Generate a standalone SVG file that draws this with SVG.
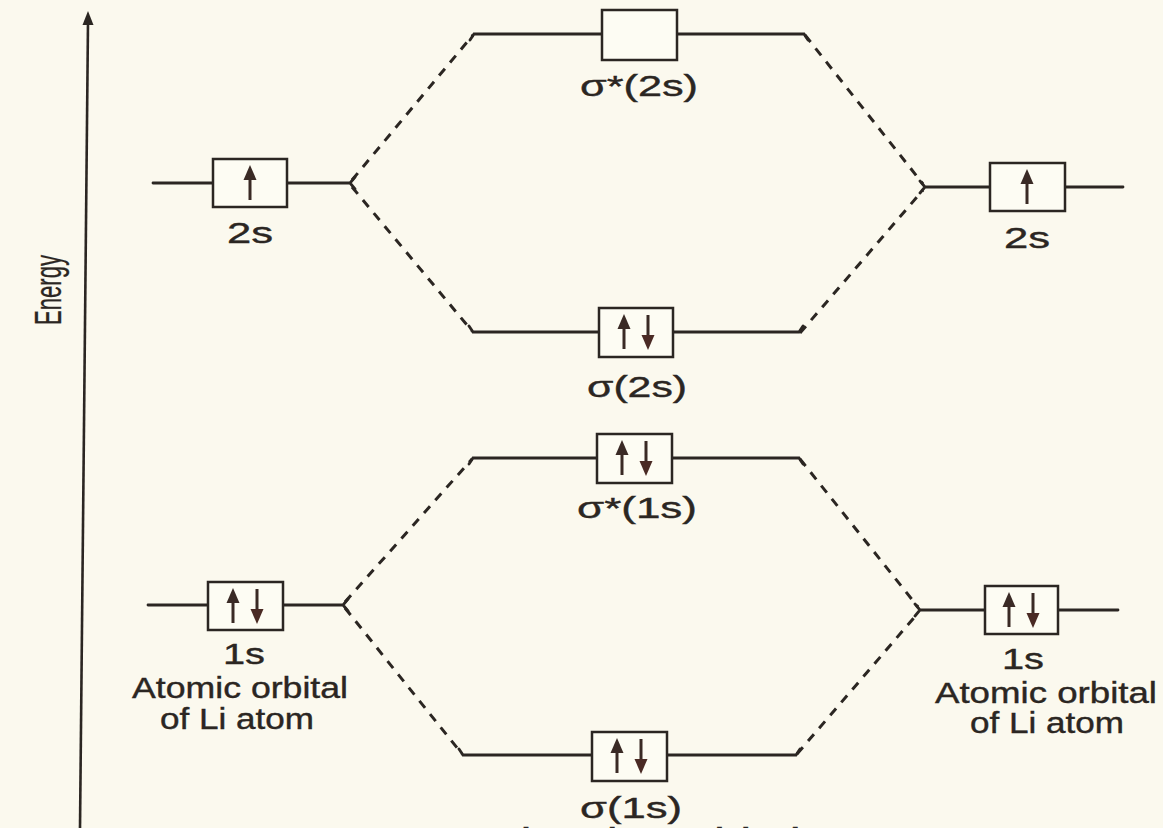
<svg xmlns="http://www.w3.org/2000/svg" xmlns:xlink="http://www.w3.org/1999/xlink" width="1163" height="828" viewBox="0 0 1163 828">
  <defs>
    <style>
      .lvl { stroke: #2b2622; stroke-width: 2.8; fill: none; stroke-linecap: round; }
      .box { stroke: #2b2622; stroke-width: 2.5; fill: #fdfcf3; }
      .dash { stroke: #2b2622; stroke-width: 3; fill: none; stroke-dasharray: 9 8; }
      .lbl { font-family: "Liberation Sans", Arial, sans-serif; font-size: 30px; fill: #2b2622; stroke: #2b2622; stroke-width: 0.4; text-anchor: middle; }
      .ax { stroke: #2b2622; stroke-width: 2.6; fill: none; }
    </style>
    <!-- spin arrows, centred on the origin -->
    <g id="up">
      <line x1="0" y1="17" x2="0" y2="-5" stroke="#3a2a25" stroke-width="3"/>
      <polygon points="0,-18 -6.5,-3 6.5,-3" fill="#3a2a25"/>
    </g>
    <g id="down">
      <line x1="0" y1="-17" x2="0" y2="5" stroke="#3a2a25" stroke-width="3"/>
      <polygon points="0,18 -6.5,3 6.5,3" fill="#4a2a24"/>
    </g>
  </defs>

  <rect width="1163" height="828" fill="#fbf9ee"/>

  <!-- energy axis -->
  <g id="energy-axis">
    <line class="ax" x1="80" y1="828" x2="88" y2="22"/>
    <polygon points="88,11 82.5,25 93.5,25" fill="#2b2622"/>
    <text transform="translate(61,290) rotate(-90)" style="font-family: 'Liberation Sans Narrow', 'Liberation Sans', Arial, sans-serif; font-size: 36px;" fill="#2b2622" stroke="#2b2622" stroke-width="0.3" text-anchor="middle" textLength="70" lengthAdjust="spacingAndGlyphs">Energy</text>
  </g>

  <!-- correlation lines between atomic and molecular levels -->
  <g id="connectors">
    <path class="dash" d="M352,180 L473,35"/>
    <path class="dash" d="M352,187 L472,331"/>
    <path class="dash" d="M805,35 L923,184"/>
    <path class="dash" d="M800,333 L923,190"/>
    <path class="dash" d="M345,602 L472,459"/>
    <path class="dash" d="M345,608 L462,754"/>
    <path class="dash" d="M800,459 L918,607"/>
    <path class="dash" d="M797,754 L918,613"/>
  </g>

  <!-- left atom, 2s -->
  <g id="ao-2s-left">
    <path class="lvl" d="M153,183 H213 M287,183 H350 M355,177 L350,183 L355,189"/>
    <rect class="box" x="213" y="159" width="74" height="48"/>
    <use xlink:href="#up" x="250" y="183"/>
    <text class="lbl" x="250" y="243" textLength="46" lengthAdjust="spacingAndGlyphs">2s</text>
  </g>

  <!-- right atom, 2s -->
  <g id="ao-2s-right">
    <path class="lvl" d="M925,187 H990 M1065,187 H1123 M920,181 L925,187 L920,193"/>
    <rect class="box" x="990" y="163" width="75" height="48"/>
    <use xlink:href="#up" x="1027" y="187"/>
    <text class="lbl" x="1027" y="248" textLength="46" lengthAdjust="spacingAndGlyphs">2s</text>
  </g>

  <!-- sigma*(2s), empty -->
  <g id="mo-sigma-star-2s">
    <path class="lvl" d="M470,40 L474,34 H602 M677,34 H804 L808,40"/>
    <rect class="box" x="602" y="10" width="75" height="50"/>
    <text class="lbl" x="639" y="96" textLength="118" lengthAdjust="spacingAndGlyphs">σ*(2s)</text>
  </g>

  <!-- sigma(2s) -->
  <g id="mo-sigma-2s">
    <path class="lvl" d="M469,326 L473,332 H599 M673,332 H799 L803,326"/>
    <rect class="box" x="599" y="308" width="74" height="49"/>
    <use xlink:href="#up" x="624" y="332"/>
    <use xlink:href="#down" x="648" y="332"/>
    <text class="lbl" x="637" y="397" textLength="100" lengthAdjust="spacingAndGlyphs">σ(2s)</text>
  </g>

  <!-- sigma*(1s) -->
  <g id="mo-sigma-star-1s">
    <path class="lvl" d="M469,464 L473,458 H597 M672,458 H799 L803,464"/>
    <rect class="box" x="597" y="434" width="75" height="49"/>
    <use xlink:href="#up" x="622" y="458"/>
    <use xlink:href="#down" x="646" y="458"/>
    <text class="lbl" x="637" y="518" textLength="120" lengthAdjust="spacingAndGlyphs">σ*(1s)</text>
  </g>

  <!-- sigma(1s) -->
  <g id="mo-sigma-1s">
    <path class="lvl" d="M459,749 L463,755 H592 M667,755 H796 L800,749"/>
    <rect class="box" x="592" y="732" width="75" height="49"/>
    <use xlink:href="#up" x="617" y="756"/>
    <use xlink:href="#down" x="641" y="756"/>
    <text class="lbl" x="631" y="818" textLength="102" lengthAdjust="spacingAndGlyphs">σ(1s)</text>
  </g>

  <!-- left atom, 1s -->
  <g id="ao-1s-left">
    <path class="lvl" d="M148,605 H208 M283,605 H343 M348,599 L343,605 L348,611"/>
    <rect class="box" x="208" y="582" width="75" height="48"/>
    <use xlink:href="#up" x="233" y="606"/>
    <use xlink:href="#down" x="257" y="606"/>
    <text class="lbl" x="244" y="664" textLength="42" lengthAdjust="spacingAndGlyphs">1s</text>
    <text class="lbl" x="240" y="698" textLength="216" lengthAdjust="spacingAndGlyphs">Atomic orbital</text>
    <text class="lbl" x="237" y="729" textLength="154" lengthAdjust="spacingAndGlyphs">of Li atom</text>
  </g>

  <!-- right atom, 1s -->
  <g id="ao-1s-right">
    <path class="lvl" d="M920,610 H985 M1058,610 H1118 M915,604 L920,610 L915,616"/>
    <rect class="box" x="985" y="586" width="73" height="48"/>
    <use xlink:href="#up" x="1009" y="610"/>
    <use xlink:href="#down" x="1033" y="610"/>
    <text class="lbl" x="1023" y="669" textLength="42" lengthAdjust="spacingAndGlyphs">1s</text>
    <text class="lbl" x="1046" y="703" textLength="222" lengthAdjust="spacingAndGlyphs">Atomic orbital</text>
    <text class="lbl" x="1047" y="733" textLength="154" lengthAdjust="spacingAndGlyphs">of Li atom</text>
  </g>

  <!-- caption running off the lower edge -->
  <text class="lbl" x="628" y="849" textLength="345" lengthAdjust="spacingAndGlyphs">Molecular orbital</text>
</svg>
